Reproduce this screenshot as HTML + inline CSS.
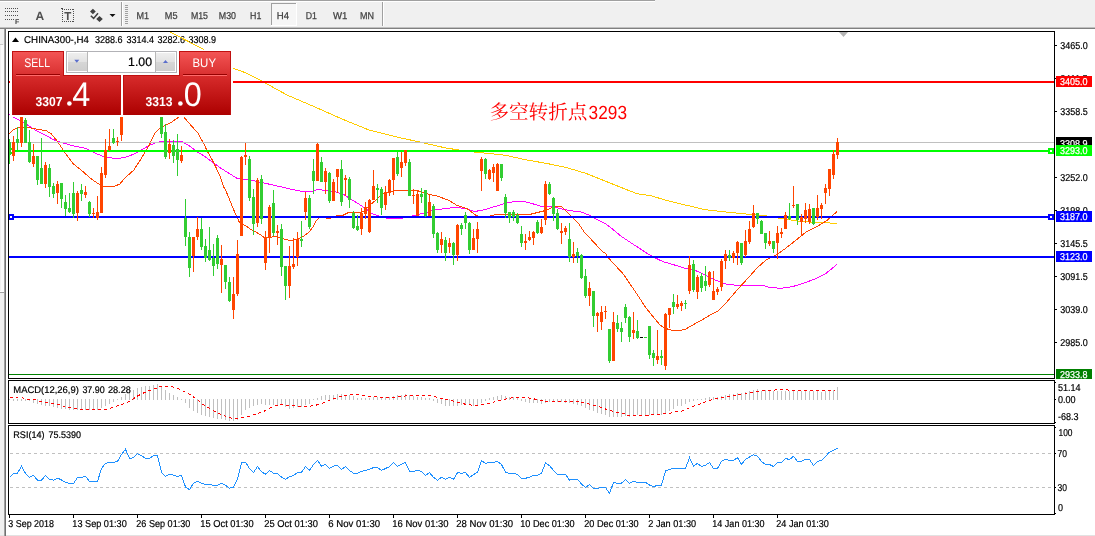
<!DOCTYPE html>
<html lang="zh"><head><meta charset="utf-8"><title>CHINA300-,H4</title>
<style>html,body{margin:0;padding:0;background:#fff;overflow:hidden}svg{display:block;text-rendering:geometricPrecision}text{font-family:"Liberation Sans","Noto Sans CJK SC",sans-serif;white-space:pre}.b{stroke:#000;stroke-width:0.2px}.w{stroke:#fff;stroke-width:0.25px}.cjk{font-family:"Liberation Sans","Noto Serif CJK SC","Noto Sans CJK SC",serif}.cr{shape-rendering:crispEdges}</style></head><body>
<svg width="1095" height="536" viewBox="0 0 1095 536">
<defs><linearGradient id="gTop" x1="0" y1="0" x2="0" y2="1"><stop offset="0" stop-color="#f45656"/><stop offset="1" stop-color="#d93030"/></linearGradient><linearGradient id="gBot" x1="0" y1="0" x2="0" y2="1"><stop offset="0" stop-color="#d82c2c"/><stop offset="1" stop-color="#ac0000"/></linearGradient><linearGradient id="gBtn" x1="0" y1="0" x2="0" y2="1"><stop offset="0" stop-color="#eeeeee"/><stop offset="0.5" stop-color="#e2e2e2"/><stop offset="0.5" stop-color="#d6d6d6"/><stop offset="1" stop-color="#cecece"/></linearGradient><clipPath id="cMain"><rect x="9" y="32" width="1045" height="346"/></clipPath></defs>
<g class="cr">
<rect x="0" y="0" width="1095" height="536" fill="#ffffff" />
<rect x="0" y="0" width="1095" height="27" fill="#f0f0f0" />
<rect x="0" y="0" width="655" height="1" fill="#a0a0a0" />
<rect x="0" y="1" width="655" height="1" fill="#ffffff" />
<rect x="0" y="27" width="1095" height="1" fill="#c0c0c0" />
<rect x="0" y="28" width="1095" height="1" fill="#808080" />
<rect x="0" y="29" width="4" height="507" fill="#f0f0f0" />
<rect x="0" y="44" width="3" height="1" fill="#c8c8c8" />
<rect x="0" y="45" width="1" height="246" fill="#f0f0f0" />
<rect x="1" y="45" width="3" height="246" fill="#fbfbfb" />
<rect x="0" y="291" width="4" height="1" fill="#ffffff" />
<rect x="0" y="292" width="4" height="1" fill="#a0a0a0" />
<rect x="0" y="535" width="1095" height="1" fill="#e2e2e2" />
<rect x="4" y="29" width="1" height="507" fill="#a0a0a0" />
<rect x="5" y="29" width="1" height="507" fill="#707070" />
<rect x="121" y="2" width="1" height="24" fill="#a0a0a0" />
<rect x="122" y="2" width="1" height="24" fill="#ffffff" />
<rect x="125" y="5" width="3" height="1" fill="#a0a0a0" />
<rect x="125" y="7" width="3" height="1" fill="#a0a0a0" />
<rect x="125" y="9" width="3" height="1" fill="#a0a0a0" />
<rect x="125" y="11" width="3" height="1" fill="#a0a0a0" />
<rect x="125" y="13" width="3" height="1" fill="#a0a0a0" />
<rect x="125" y="15" width="3" height="1" fill="#a0a0a0" />
<rect x="125" y="17" width="3" height="1" fill="#a0a0a0" />
<rect x="125" y="19" width="3" height="1" fill="#a0a0a0" />
<rect x="125" y="21" width="3" height="1" fill="#a0a0a0" />
<rect x="125" y="23" width="3" height="1" fill="#a0a0a0" />
<rect x="382" y="2" width="1" height="24" fill="#a0a0a0" />
<rect x="383" y="2" width="1" height="24" fill="#ffffff" />
<rect x="271" y="3" width="25" height="22" fill="#f6f6f6" />
<rect x="271" y="3" width="25" height="1" fill="#a0a0a0" />
<rect x="271" y="3" width="1" height="22" fill="#a0a0a0" />
<rect x="271" y="25" width="26" height="1" fill="#ffffff" />
<rect x="296" y="3" width="1" height="22" fill="#ffffff" />
<rect x="5" y="8" width="1" height="1" fill="#505050" />
<rect x="7" y="8" width="1" height="1" fill="#505050" />
<rect x="9" y="8" width="1" height="1" fill="#505050" />
<rect x="11" y="8" width="1" height="1" fill="#505050" />
<rect x="13" y="8" width="1" height="1" fill="#505050" />
<rect x="15" y="8" width="1" height="1" fill="#505050" />
<rect x="17" y="8" width="1" height="1" fill="#505050" />
<rect x="5" y="11" width="1" height="1" fill="#505050" />
<rect x="7" y="11" width="1" height="1" fill="#505050" />
<rect x="9" y="11" width="1" height="1" fill="#505050" />
<rect x="11" y="11" width="1" height="1" fill="#505050" />
<rect x="13" y="11" width="1" height="1" fill="#505050" />
<rect x="15" y="11" width="1" height="1" fill="#505050" />
<rect x="17" y="11" width="1" height="1" fill="#505050" />
<rect x="5" y="15" width="1" height="1" fill="#505050" />
<rect x="7" y="15" width="1" height="1" fill="#505050" />
<rect x="9" y="15" width="1" height="1" fill="#505050" />
<rect x="11" y="15" width="1" height="1" fill="#505050" />
<rect x="13" y="15" width="1" height="1" fill="#505050" />
<rect x="15" y="15" width="1" height="1" fill="#505050" />
<rect x="17" y="15" width="1" height="1" fill="#505050" />
<rect x="5" y="19" width="1" height="1" fill="#505050" />
<rect x="7" y="19" width="1" height="1" fill="#505050" />
<rect x="9" y="19" width="1" height="1" fill="#505050" />
<rect x="11" y="19" width="1" height="1" fill="#505050" />
<rect x="13" y="19" width="1" height="1" fill="#505050" />
<rect x="62" y="9" width="1" height="1" fill="#505050" />
<rect x="62" y="21" width="1" height="1" fill="#505050" />
<rect x="64" y="9" width="1" height="1" fill="#505050" />
<rect x="64" y="21" width="1" height="1" fill="#505050" />
<rect x="66" y="9" width="1" height="1" fill="#505050" />
<rect x="66" y="21" width="1" height="1" fill="#505050" />
<rect x="68" y="9" width="1" height="1" fill="#505050" />
<rect x="68" y="21" width="1" height="1" fill="#505050" />
<rect x="70" y="9" width="1" height="1" fill="#505050" />
<rect x="70" y="21" width="1" height="1" fill="#505050" />
<rect x="72" y="9" width="1" height="1" fill="#505050" />
<rect x="72" y="21" width="1" height="1" fill="#505050" />
<rect x="62" y="9" width="1" height="1" fill="#505050" />
<rect x="73" y="9" width="1" height="1" fill="#505050" />
<rect x="62" y="11" width="1" height="1" fill="#505050" />
<rect x="73" y="11" width="1" height="1" fill="#505050" />
<rect x="62" y="13" width="1" height="1" fill="#505050" />
<rect x="73" y="13" width="1" height="1" fill="#505050" />
<rect x="62" y="15" width="1" height="1" fill="#505050" />
<rect x="73" y="15" width="1" height="1" fill="#505050" />
<rect x="62" y="17" width="1" height="1" fill="#505050" />
<rect x="73" y="17" width="1" height="1" fill="#505050" />
<rect x="62" y="19" width="1" height="1" fill="#505050" />
<rect x="73" y="19" width="1" height="1" fill="#505050" />
<rect x="62" y="21" width="1" height="1" fill="#505050" />
<rect x="73" y="21" width="1" height="1" fill="#505050" />
<rect x="61" y="8" width="2" height="1" fill="#404040" />
</g>
<text x="15" y="24" font-size="7" fill="#404040" font-weight="bold" >F</text>
<text x="35.5" y="19.5" font-size="12" fill="#505050" font-weight="bold" >A</text>
<text x="64.2" y="20" font-size="11.5" fill="#505050" font-weight="bold" >T</text>
<path d="M90 11.6 L92.9 8.8 L95.8 11.6 L92.9 14.2 Z M96.2 19 L99.5 16 L102.8 19 L99.5 22 Z" fill="#404040"/>
<path d="M90.8 15.8 L93.6 18.4 L98 13.2" fill="none" stroke="#404040" stroke-width="1.5"/>
<path d="M109.5 14 L115.5 14 L112.5 17 Z" fill="#101010"/>
<text x="136.4" y="19" font-size="10" fill="#404040" textLength="12.6" lengthAdjust="spacingAndGlyphs" stroke="#404040" stroke-width="0.25">M1</text>
<text x="164.8" y="19" font-size="10" fill="#404040" textLength="12.7" lengthAdjust="spacingAndGlyphs" stroke="#404040" stroke-width="0.25">M5</text>
<text x="190.9" y="19" font-size="10" fill="#404040" textLength="17.1" lengthAdjust="spacingAndGlyphs" stroke="#404040" stroke-width="0.25">M15</text>
<text x="218.8" y="19" font-size="10" fill="#404040" textLength="17.2" lengthAdjust="spacingAndGlyphs" stroke="#404040" stroke-width="0.25">M30</text>
<text x="250" y="19" font-size="10" fill="#404040" textLength="11.3" lengthAdjust="spacingAndGlyphs" stroke="#404040" stroke-width="0.25">H1</text>
<text x="276.7" y="19" font-size="10" fill="#404040" textLength="12.3" lengthAdjust="spacingAndGlyphs" stroke="#404040" stroke-width="0.25">H4</text>
<text x="305.8" y="19" font-size="10" fill="#404040" textLength="11.2" lengthAdjust="spacingAndGlyphs" stroke="#404040" stroke-width="0.25">D1</text>
<text x="333" y="19" font-size="10" fill="#404040" textLength="14.4" lengthAdjust="spacingAndGlyphs" stroke="#404040" stroke-width="0.25">W1</text>
<text x="360" y="19" font-size="10" fill="#404040" textLength="14" lengthAdjust="spacingAndGlyphs" stroke="#404040" stroke-width="0.25">MN</text>
<g class="cr">
<rect x="8" y="31" width="1047" height="1" fill="#000" />
<rect x="8" y="378" width="1047" height="1" fill="#000" />
<rect x="8" y="31" width="1" height="348" fill="#000" />
<rect x="1054" y="31" width="1" height="348" fill="#000" />
<rect x="8" y="380" width="1047" height="1" fill="#000" />
<rect x="8" y="423" width="1047" height="1" fill="#000" />
<rect x="8" y="380" width="1" height="44" fill="#000" />
<rect x="1054" y="380" width="1" height="44" fill="#000" />
<rect x="8" y="425" width="1047" height="1" fill="#000" />
<rect x="8" y="514" width="1047" height="1" fill="#000" />
<rect x="8" y="425" width="1" height="90" fill="#000" />
<rect x="1054" y="425" width="1" height="90" fill="#000" />
<rect x="1055" y="45" width="2" height="1" fill="#000" />
<rect x="1055" y="78" width="2" height="1" fill="#000" />
<rect x="1055" y="111" width="2" height="1" fill="#000" />
<rect x="1055" y="177" width="2" height="1" fill="#000" />
<rect x="1055" y="210" width="2" height="1" fill="#000" />
<rect x="1055" y="243" width="2" height="1" fill="#000" />
<rect x="1055" y="276" width="2" height="1" fill="#000" />
<rect x="1055" y="309" width="2" height="1" fill="#000" />
<rect x="1055" y="342" width="2" height="1" fill="#000" />
<rect x="1055" y="382" width="1" height="1" fill="#000" />
<rect x="1055" y="399" width="1" height="1" fill="#000" />
<rect x="1055" y="422" width="1" height="1" fill="#000" />
<rect x="1055" y="427" width="1" height="1" fill="#000" />
<rect x="1055" y="453" width="1" height="1" fill="#000" />
<rect x="1055" y="487" width="1" height="1" fill="#000" />
<rect x="1055" y="513" width="1" height="1" fill="#000" />
<rect x="9" y="515" width="1" height="3" fill="#000" />
<rect x="73" y="515" width="1" height="3" fill="#000" />
<rect x="137" y="515" width="1" height="3" fill="#000" />
<rect x="201" y="515" width="1" height="3" fill="#000" />
<rect x="265" y="515" width="1" height="3" fill="#000" />
<rect x="329" y="515" width="1" height="3" fill="#000" />
<rect x="393" y="515" width="1" height="3" fill="#000" />
<rect x="457" y="515" width="1" height="3" fill="#000" />
<rect x="521" y="515" width="1" height="3" fill="#000" />
<rect x="585" y="515" width="1" height="3" fill="#000" />
<rect x="649" y="515" width="1" height="3" fill="#000" />
<rect x="713" y="515" width="1" height="3" fill="#000" />
<rect x="777" y="515" width="1" height="3" fill="#000" />
</g>
<text x="1060.2" y="49" font-size="10" fill="#000" textLength="27.5" lengthAdjust="spacingAndGlyphs" class="b" >3465.0</text>
<text x="1060.2" y="82" font-size="10" fill="#000" textLength="27.5" lengthAdjust="spacingAndGlyphs" class="b" >3411.5</text>
<text x="1060.2" y="115" font-size="10" fill="#000" textLength="27.5" lengthAdjust="spacingAndGlyphs" class="b" >3358.5</text>
<text x="1060.2" y="181" font-size="10" fill="#000" textLength="27.5" lengthAdjust="spacingAndGlyphs" class="b" >3252.0</text>
<text x="1060.2" y="214" font-size="10" fill="#000" textLength="27.5" lengthAdjust="spacingAndGlyphs" class="b" >3198.0</text>
<text x="1060.2" y="247" font-size="10" fill="#000" textLength="27.5" lengthAdjust="spacingAndGlyphs" class="b" >3145.5</text>
<text x="1060.2" y="280" font-size="10" fill="#000" textLength="27.5" lengthAdjust="spacingAndGlyphs" class="b" >3091.5</text>
<text x="1060.2" y="313" font-size="10" fill="#000" textLength="27.5" lengthAdjust="spacingAndGlyphs" class="b" >3039.0</text>
<text x="1060.2" y="346" font-size="10" fill="#000" textLength="27.5" lengthAdjust="spacingAndGlyphs" class="b" >2985.0</text>
<text x="1058" y="391" font-size="10" fill="#000" textLength="22.6" lengthAdjust="spacingAndGlyphs" class="b" >51.14</text>
<text x="1058" y="403" font-size="10" fill="#000" textLength="17.6" lengthAdjust="spacingAndGlyphs" class="b" >0.00</text>
<text x="1058" y="420" font-size="10" fill="#000" textLength="20.6" lengthAdjust="spacingAndGlyphs" class="b" >-68.3</text>
<text x="1058.5" y="436" font-size="10" fill="#000" textLength="14" lengthAdjust="spacingAndGlyphs" class="b" >100</text>
<text x="1057.5" y="457" font-size="10" fill="#000" textLength="9.5" lengthAdjust="spacingAndGlyphs" class="b" >70</text>
<text x="1057.5" y="491" font-size="10" fill="#000" textLength="9.5" lengthAdjust="spacingAndGlyphs" class="b" >30</text>
<text x="1058" y="511" font-size="10" fill="#000" textLength="5" lengthAdjust="spacingAndGlyphs" class="b" >0</text>
<text x="8.3" y="527" font-size="10" fill="#000" textLength="45.6" lengthAdjust="spacingAndGlyphs" class="b" >3 Sep 2018</text>
<text x="72.3" y="527" font-size="10" fill="#000" textLength="54.5" lengthAdjust="spacingAndGlyphs" class="b" >13 Sep 01:30</text>
<text x="136.3" y="527" font-size="10" fill="#000" textLength="54" lengthAdjust="spacingAndGlyphs" class="b" >26 Sep 01:30</text>
<text x="200.3" y="527" font-size="10" fill="#000" textLength="53.3" lengthAdjust="spacingAndGlyphs" class="b" >15 Oct 01:30</text>
<text x="264.3" y="527" font-size="10" fill="#000" textLength="53.6" lengthAdjust="spacingAndGlyphs" class="b" >25 Oct 01:30</text>
<text x="328.3" y="527" font-size="10" fill="#000" textLength="51.8" lengthAdjust="spacingAndGlyphs" class="b" >6 Nov 01:30</text>
<text x="392.3" y="527" font-size="10" fill="#000" textLength="56.3" lengthAdjust="spacingAndGlyphs" class="b" >16 Nov 01:30</text>
<text x="456.3" y="527" font-size="10" fill="#000" textLength="56.7" lengthAdjust="spacingAndGlyphs" class="b" >28 Nov 01:30</text>
<text x="520.3" y="527" font-size="10" fill="#000" textLength="54.3" lengthAdjust="spacingAndGlyphs" class="b" >10 Dec 01:30</text>
<text x="584.3" y="527" font-size="10" fill="#000" textLength="54.3" lengthAdjust="spacingAndGlyphs" class="b" >20 Dec 01:30</text>
<text x="648.3" y="527" font-size="10" fill="#000" textLength="47.8" lengthAdjust="spacingAndGlyphs" class="b" >2 Jan 01:30</text>
<text x="712.3" y="527" font-size="10" fill="#000" textLength="52.2" lengthAdjust="spacingAndGlyphs" class="b" >14 Jan 01:30</text>
<text x="776.3" y="527" font-size="10" fill="#000" textLength="52.6" lengthAdjust="spacingAndGlyphs" class="b" >24 Jan 01:30</text>
<path d="M12 42 L19 42 L15.5 37.6 Z" fill="#000"/>
<text y="43" font-size="10" fill="#000" class="b"><tspan x="24.1" textLength="64.8" lengthAdjust="spacingAndGlyphs">CHINA300-,H4</tspan> <tspan x="95" textLength="27.6" lengthAdjust="spacingAndGlyphs">3288.6</tspan> <tspan x="126.4" textLength="27.6" lengthAdjust="spacingAndGlyphs">3314.4</tspan> <tspan x="157.4" textLength="27.6" lengthAdjust="spacingAndGlyphs">3282.6</tspan> <tspan x="188.4" textLength="27.6" lengthAdjust="spacingAndGlyphs">3308.9</tspan></text>
<g clip-path="url(#cMain)">
<polyline points="170.6,32.2 202.0,48.6 233.6,68.4 243.0,71.7 259.7,79.9 287.0,95.0 314.5,106.8 342.0,119.0 369.0,130.0 396.8,137.0 424.0,143.0 445.0,147.8 460.0,150.2 476.0,152.2 505.4,155.2 525.5,159.8 545.6,163.2 565.6,167.3 585.7,173.3 605.8,181.3 626.0,189.4 637.0,193.7 651.0,195.7 665.0,200.0 685.3,205.0 705.4,209.7 725.5,212.0 745.6,214.0 765.6,215.8 779.7,218.2 795.8,220.8 815.9,222.6 837.0,223.2" fill="none" stroke="#ffcc00" stroke-width="1" class="cr"/>
<polyline points="9.0,114.4 14.0,117.6 21.1,121.0 29.1,126.1 37.1,131.1 45.2,135.1 53.2,139.5 61.3,142.5 73.3,145.8 85.4,148.2 93.4,152.2 101.4,155.8 109.5,157.8 117.5,158.6 125.6,157.2 133.6,154.2 141.6,149.8 149.7,145.2 157.7,142.1 165.7,141.5 181.8,141.5 189.9,146.2 197.9,152.2 205.9,157.2 213.0,162.6 221.0,168.3 229.0,173.3 237.0,178.3 245.0,179.3 253.2,180.7 265.3,183.3 277.3,186.0 289.4,188.8 301.4,191.4 312.5,191.4 317.5,189.4 325.6,190.4 335.6,192.0 343.6,194.4 349.7,198.4 357.7,203.4 365.7,208.5 371.8,213.5 379.8,216.3 387.0,218.3 402.0,218.3 410.0,216.5 418.0,214.5 425.0,212.9 435.0,209.9 455.0,207.4 465.0,208.5 475.0,211.5 485.3,209.5 495.3,206.4 505.4,203.4 515.4,201.4 523.5,201.4 533.5,204.0 541.5,206.4 553.6,206.8 563.8,209.4 572.5,211.0 581.3,212.0 590.0,215.5 598.9,220.4 606.2,224.3 613.5,229.9 620.8,236.0 628.0,240.8 636.9,246.7 645.6,252.5 654.4,257.6 663.2,261.7 672.0,264.2 683.7,267.9 692.4,269.3 701.2,273.0 708.5,276.6 715.0,279.9 725.5,284.0 737.5,285.5 763.6,285.7 769.7,287.5 781.0,288.3 791.8,286.8 803.0,283.5 815.9,278.5 826.0,273.4 837.0,264.4" fill="none" stroke="#ff00ff" stroke-width="1" class="cr"/>
<polyline points="9.0,134.1 13.0,130.1 18.0,127.7 25.1,127.1 31.1,128.1 38.2,129.5 46.2,130.7 51.2,133.7 57.2,141.1 65.3,153.2 73.3,163.8 81.4,170.3 89.4,177.3 97.4,183.3 105.5,187.0 113.5,186.4 119.5,184.3 125.6,177.3 133.6,170.3 139.6,161.2 145.6,151.2 149.7,144.2 154.7,133.1 159.7,128.1 165.7,125.1 171.8,122.1 178.8,117.0 181.3,115.5 183.8,117.0 189.9,124.1 197.9,133.1 202.9,142.1 207.9,152.2 214.0,163.2 220.0,176.3 224.0,187.4 226.3,191.7 232.2,206.3 236.6,216.5 239.5,222.4 245.4,225.6 251.2,229.7 255.0,231.4 260.8,235.0 265.2,238.3 269.6,237.3 276.9,236.5 284.2,239.2 291.5,240.6 297.4,239.2 303.2,236.5 309.0,232.2 313.5,226.3 316.4,220.5 319.3,217.5 329.6,218.3 338.3,215.4 342.7,215.4 348.6,212.4 357.3,212.9 363.2,211.7 366.0,208.8 370.5,204.4 376.3,200.0 379.8,196.0 385.8,192.4 393.9,190.8 410.0,190.0 418.0,190.8 425.0,193.4 437.0,196.0 449.0,200.4 457.0,205.4 467.0,208.5 476.0,215.5 485.0,217.5 494.0,215.0 529.5,214.5 537.5,212.5 545.6,210.5 553.6,206.8 561.6,206.5 569.6,214.5 578.4,223.3 584.2,232.0 594.5,243.0 601.8,251.0 606.2,254.0 607.0,256.2 613.5,263.5 623.7,274.5 628.0,281.0 636.9,294.0 645.6,307.4 654.4,318.4 660.3,325.2 664.0,327.5 669.0,329.6 674.0,330.7 680.0,330.5 685.0,329.5 690.6,326.3 696.0,323.2 701.2,320.5 708.5,316.0 715.0,312.5 718.0,310.9 726.3,302.7 734.5,293.0 740.5,286.2 749.6,276.4 757.6,267.4 765.6,260.4 775.7,255.3 785.7,248.3 795.8,240.3 805.8,232.2 815.9,227.2 826.0,221.2 837.0,211.7" fill="none" stroke="#ff4500" stroke-width="1" class="cr"/>
<g class="cr">
<rect x="9" y="142" width="1045" height="1" fill="#c0c0c0" />
<rect x="9" y="81" width="1045" height="2" fill="#ff0000" />
<rect x="9" y="150" width="1045" height="2" fill="#00ff00" />
<rect x="9" y="216" width="1045" height="2" fill="#0000ff" />
<rect x="9" y="256" width="1045" height="2" fill="#0000ff" />
<rect x="9" y="374" width="1045" height="1" fill="#008000" />
<rect x="8" y="148" width="6" height="6" fill="#00ff00" />
<rect x="10" y="150" width="2" height="2" fill="#ffffff" />
<rect x="1048" y="148" width="6" height="6" fill="#00ff00" />
<rect x="1050" y="150" width="2" height="2" fill="#ffffff" />
<rect x="8" y="214" width="6" height="6" fill="#0000ff" />
<rect x="10" y="216" width="2" height="2" fill="#ffffff" />
<rect x="1048" y="214" width="6" height="6" fill="#0000ff" />
<rect x="1050" y="216" width="2" height="2" fill="#ffffff" />
<rect x="9" y="139" width="1" height="25" fill="#32cd32" />
<rect x="8" y="142" width="3" height="13" fill="#32cd32" />
<rect x="13" y="136" width="1" height="25" fill="#ff4500" />
<rect x="12" y="142" width="3" height="14" fill="#ff4500" />
<rect x="17" y="127" width="1" height="23" fill="#32cd32" />
<rect x="16" y="139" width="3" height="4" fill="#32cd32" />
<rect x="21" y="117" width="1" height="30" fill="#ff4500" />
<rect x="20" y="117" width="3" height="26" fill="#ff4500" />
<rect x="25" y="118" width="1" height="25" fill="#32cd32" />
<rect x="24" y="120" width="3" height="23" fill="#32cd32" />
<rect x="29" y="130" width="1" height="33" fill="#32cd32" />
<rect x="28" y="142" width="3" height="20" fill="#32cd32" />
<rect x="33" y="144" width="1" height="23" fill="#ff4500" />
<rect x="32" y="156" width="3" height="8" fill="#ff4500" />
<rect x="37" y="156" width="1" height="29" fill="#32cd32" />
<rect x="36" y="156" width="3" height="24" fill="#32cd32" />
<rect x="41" y="138" width="1" height="46" fill="#32cd32" />
<rect x="40" y="168" width="3" height="16" fill="#32cd32" />
<rect x="45" y="162" width="1" height="26" fill="#ff4500" />
<rect x="44" y="165" width="3" height="19" fill="#ff4500" />
<rect x="49" y="164" width="1" height="33" fill="#32cd32" />
<rect x="48" y="168" width="3" height="19" fill="#32cd32" />
<rect x="53" y="183" width="1" height="15" fill="#32cd32" />
<rect x="52" y="186" width="3" height="8" fill="#32cd32" />
<rect x="57" y="181" width="1" height="23" fill="#ff4500" />
<rect x="56" y="184" width="3" height="9" fill="#ff4500" />
<rect x="61" y="183" width="1" height="25" fill="#32cd32" />
<rect x="60" y="183" width="3" height="16" fill="#32cd32" />
<rect x="65" y="195" width="1" height="21" fill="#32cd32" />
<rect x="64" y="202" width="3" height="7" fill="#32cd32" />
<rect x="69" y="193" width="1" height="20" fill="#32cd32" />
<rect x="68" y="208" width="3" height="4" fill="#32cd32" />
<rect x="73" y="182" width="1" height="36" fill="#32cd32" />
<rect x="72" y="193" width="3" height="21" fill="#32cd32" />
<rect x="77" y="191" width="1" height="30" fill="#ff4500" />
<rect x="76" y="193" width="3" height="20" fill="#ff4500" />
<rect x="81" y="184" width="1" height="17" fill="#32cd32" />
<rect x="80" y="190" width="3" height="4" fill="#32cd32" />
<rect x="85" y="186" width="1" height="12" fill="#ff4500" />
<rect x="84" y="192" width="3" height="3" fill="#ff4500" />
<rect x="89" y="201" width="1" height="16" fill="#32cd32" />
<rect x="88" y="202" width="3" height="12" fill="#32cd32" />
<rect x="93" y="208" width="1" height="10" fill="#ff4500" />
<rect x="92" y="213" width="3" height="1" fill="#ff4500" />
<rect x="97" y="196" width="1" height="24" fill="#ff4500" />
<rect x="96" y="212" width="3" height="6" fill="#ff4500" />
<rect x="101" y="167" width="1" height="46" fill="#ff4500" />
<rect x="100" y="173" width="3" height="40" fill="#ff4500" />
<rect x="105" y="139" width="1" height="39" fill="#ff4500" />
<rect x="104" y="150" width="3" height="25" fill="#ff4500" />
<rect x="109" y="129" width="1" height="22" fill="#ff4500" />
<rect x="108" y="146" width="3" height="4" fill="#ff4500" />
<rect x="113" y="129" width="1" height="15" fill="#32cd32" />
<rect x="112" y="138" width="3" height="5" fill="#32cd32" />
<rect x="117" y="137" width="1" height="9" fill="#ff4500" />
<rect x="116" y="141" width="3" height="1" fill="#ff4500" />
<rect x="121" y="100" width="1" height="41" fill="#ff4500" />
<rect x="120" y="100" width="3" height="35" fill="#ff4500" />
<rect x="161" y="100" width="1" height="38" fill="#32cd32" />
<rect x="160" y="100" width="3" height="34" fill="#32cd32" />
<rect x="165" y="124" width="1" height="35" fill="#32cd32" />
<rect x="164" y="132" width="3" height="25" fill="#32cd32" />
<rect x="169" y="139" width="1" height="20" fill="#ff4500" />
<rect x="168" y="144" width="3" height="9" fill="#ff4500" />
<rect x="173" y="140" width="1" height="23" fill="#32cd32" />
<rect x="172" y="145" width="3" height="11" fill="#32cd32" />
<rect x="177" y="134" width="1" height="42" fill="#32cd32" />
<rect x="176" y="149" width="3" height="11" fill="#32cd32" />
<rect x="181" y="146" width="1" height="17" fill="#ff4500" />
<rect x="180" y="155" width="3" height="6" fill="#ff4500" />
<rect x="185" y="199" width="1" height="47" fill="#32cd32" />
<rect x="184" y="218" width="3" height="19" fill="#32cd32" />
<rect x="189" y="232" width="1" height="45" fill="#32cd32" />
<rect x="188" y="237" width="3" height="31" fill="#32cd32" />
<rect x="193" y="237" width="1" height="35" fill="#ff4500" />
<rect x="192" y="237" width="3" height="19" fill="#ff4500" />
<rect x="197" y="217" width="1" height="23" fill="#ff4500" />
<rect x="196" y="229" width="3" height="8" fill="#ff4500" />
<rect x="201" y="218" width="1" height="32" fill="#32cd32" />
<rect x="200" y="229" width="3" height="18" fill="#32cd32" />
<rect x="205" y="239" width="1" height="23" fill="#32cd32" />
<rect x="204" y="246" width="3" height="12" fill="#32cd32" />
<rect x="209" y="227" width="1" height="34" fill="#32cd32" />
<rect x="208" y="250" width="3" height="10" fill="#32cd32" />
<rect x="213" y="244" width="1" height="32" fill="#32cd32" />
<rect x="212" y="258" width="3" height="8" fill="#32cd32" />
<rect x="217" y="235" width="1" height="34" fill="#32cd32" />
<rect x="216" y="238" width="3" height="26" fill="#32cd32" />
<rect x="221" y="245" width="1" height="48" fill="#ff4500" />
<rect x="220" y="259" width="3" height="6" fill="#ff4500" />
<rect x="225" y="265" width="1" height="24" fill="#32cd32" />
<rect x="224" y="265" width="3" height="17" fill="#32cd32" />
<rect x="229" y="277" width="1" height="25" fill="#32cd32" />
<rect x="228" y="282" width="3" height="19" fill="#32cd32" />
<rect x="233" y="277" width="1" height="42" fill="#ff4500" />
<rect x="232" y="294" width="3" height="16" fill="#ff4500" />
<rect x="237" y="240" width="1" height="56" fill="#ff4500" />
<rect x="236" y="254" width="3" height="40" fill="#ff4500" />
<rect x="241" y="156" width="1" height="80" fill="#ff4500" />
<rect x="240" y="157" width="3" height="79" fill="#ff4500" />
<rect x="245" y="143" width="1" height="22" fill="#ff4500" />
<rect x="244" y="155" width="3" height="2" fill="#ff4500" />
<rect x="249" y="156" width="1" height="45" fill="#32cd32" />
<rect x="248" y="159" width="3" height="39" fill="#32cd32" />
<rect x="253" y="189" width="1" height="46" fill="#32cd32" />
<rect x="252" y="197" width="3" height="27" fill="#32cd32" />
<rect x="257" y="178" width="1" height="49" fill="#ff4500" />
<rect x="256" y="180" width="3" height="43" fill="#ff4500" />
<rect x="261" y="175" width="1" height="49" fill="#32cd32" />
<rect x="260" y="179" width="3" height="40" fill="#32cd32" />
<rect x="265" y="231" width="1" height="39" fill="#ff4500" />
<rect x="264" y="238" width="3" height="25" fill="#ff4500" />
<rect x="269" y="205" width="1" height="48" fill="#ff4500" />
<rect x="268" y="207" width="3" height="31" fill="#ff4500" />
<rect x="273" y="190" width="1" height="46" fill="#32cd32" />
<rect x="272" y="203" width="3" height="30" fill="#32cd32" />
<rect x="277" y="225" width="1" height="20" fill="#ff4500" />
<rect x="276" y="231" width="3" height="2" fill="#ff4500" />
<rect x="281" y="224" width="1" height="52" fill="#32cd32" />
<rect x="280" y="229" width="3" height="38" fill="#32cd32" />
<rect x="285" y="266" width="1" height="34" fill="#32cd32" />
<rect x="284" y="266" width="3" height="20" fill="#32cd32" />
<rect x="289" y="246" width="1" height="52" fill="#ff4500" />
<rect x="288" y="266" width="3" height="20" fill="#ff4500" />
<rect x="293" y="238" width="1" height="31" fill="#ff4500" />
<rect x="292" y="264" width="3" height="3" fill="#ff4500" />
<rect x="297" y="232" width="1" height="34" fill="#ff4500" />
<rect x="296" y="239" width="3" height="18" fill="#ff4500" />
<rect x="301" y="221" width="1" height="26" fill="#32cd32" />
<rect x="300" y="239" width="3" height="2" fill="#32cd32" />
<rect x="305" y="192" width="1" height="28" fill="#ff4500" />
<rect x="304" y="198" width="3" height="14" fill="#ff4500" />
<rect x="309" y="195" width="1" height="34" fill="#32cd32" />
<rect x="308" y="198" width="3" height="29" fill="#32cd32" />
<rect x="313" y="159" width="1" height="35" fill="#32cd32" />
<rect x="312" y="171" width="3" height="10" fill="#32cd32" />
<rect x="317" y="143" width="1" height="38" fill="#ff4500" />
<rect x="316" y="144" width="3" height="37" fill="#ff4500" />
<rect x="321" y="157" width="1" height="25" fill="#32cd32" />
<rect x="320" y="162" width="3" height="20" fill="#32cd32" />
<rect x="325" y="168" width="1" height="26" fill="#ff4500" />
<rect x="324" y="171" width="3" height="11" fill="#ff4500" />
<rect x="329" y="172" width="1" height="31" fill="#32cd32" />
<rect x="328" y="173" width="3" height="28" fill="#32cd32" />
<rect x="333" y="179" width="1" height="22" fill="#ff4500" />
<rect x="332" y="182" width="3" height="19" fill="#ff4500" />
<rect x="337" y="169" width="1" height="24" fill="#ff4500" />
<rect x="336" y="169" width="3" height="8" fill="#ff4500" />
<rect x="341" y="160" width="1" height="46" fill="#32cd32" />
<rect x="340" y="169" width="3" height="33" fill="#32cd32" />
<rect x="345" y="175" width="1" height="21" fill="#ff4500" />
<rect x="344" y="178" width="3" height="2" fill="#ff4500" />
<rect x="349" y="177" width="1" height="31" fill="#32cd32" />
<rect x="348" y="179" width="3" height="21" fill="#32cd32" />
<rect x="353" y="211" width="1" height="18" fill="#32cd32" />
<rect x="352" y="213" width="3" height="15" fill="#32cd32" />
<rect x="357" y="215" width="1" height="16" fill="#32cd32" />
<rect x="356" y="226" width="3" height="4" fill="#32cd32" />
<rect x="361" y="208" width="1" height="27" fill="#ff4500" />
<rect x="360" y="213" width="3" height="16" fill="#ff4500" />
<rect x="365" y="202" width="1" height="17" fill="#ff4500" />
<rect x="364" y="207" width="3" height="7" fill="#ff4500" />
<rect x="369" y="199" width="1" height="34" fill="#ff4500" />
<rect x="368" y="200" width="3" height="32" fill="#ff4500" />
<rect x="373" y="170" width="1" height="30" fill="#ff4500" />
<rect x="372" y="186" width="3" height="14" fill="#ff4500" />
<rect x="377" y="184" width="1" height="19" fill="#32cd32" />
<rect x="376" y="188" width="3" height="2" fill="#32cd32" />
<rect x="381" y="187" width="1" height="28" fill="#32cd32" />
<rect x="380" y="189" width="3" height="19" fill="#32cd32" />
<rect x="385" y="186" width="1" height="24" fill="#ff4500" />
<rect x="384" y="192" width="3" height="13" fill="#ff4500" />
<rect x="389" y="179" width="1" height="17" fill="#ff4500" />
<rect x="388" y="180" width="3" height="13" fill="#ff4500" />
<rect x="393" y="158" width="1" height="37" fill="#ff4500" />
<rect x="392" y="158" width="3" height="22" fill="#ff4500" />
<rect x="397" y="152" width="1" height="24" fill="#32cd32" />
<rect x="396" y="157" width="3" height="17" fill="#32cd32" />
<rect x="401" y="152" width="1" height="25" fill="#ff4500" />
<rect x="400" y="162" width="3" height="6" fill="#ff4500" />
<rect x="405" y="150" width="1" height="16" fill="#ff4500" />
<rect x="404" y="150" width="3" height="13" fill="#ff4500" />
<rect x="409" y="159" width="1" height="37" fill="#32cd32" />
<rect x="408" y="162" width="3" height="34" fill="#32cd32" />
<rect x="413" y="189" width="1" height="15" fill="#ff4500" />
<rect x="412" y="195" width="3" height="1" fill="#ff4500" />
<rect x="417" y="190" width="1" height="26" fill="#ff4500" />
<rect x="416" y="194" width="3" height="22" fill="#ff4500" />
<rect x="421" y="188" width="1" height="15" fill="#32cd32" />
<rect x="420" y="194" width="3" height="3" fill="#32cd32" />
<rect x="425" y="190" width="1" height="27" fill="#32cd32" />
<rect x="424" y="190" width="3" height="26" fill="#32cd32" />
<rect x="429" y="194" width="1" height="22" fill="#ff4500" />
<rect x="428" y="202" width="3" height="14" fill="#ff4500" />
<rect x="433" y="204" width="1" height="34" fill="#32cd32" />
<rect x="432" y="206" width="3" height="28" fill="#32cd32" />
<rect x="437" y="232" width="1" height="21" fill="#32cd32" />
<rect x="436" y="233" width="3" height="17" fill="#32cd32" />
<rect x="441" y="232" width="1" height="21" fill="#ff4500" />
<rect x="440" y="239" width="3" height="6" fill="#ff4500" />
<rect x="445" y="237" width="1" height="24" fill="#32cd32" />
<rect x="444" y="240" width="3" height="13" fill="#32cd32" />
<rect x="449" y="238" width="1" height="15" fill="#ff4500" />
<rect x="448" y="243" width="3" height="4" fill="#ff4500" />
<rect x="453" y="242" width="1" height="23" fill="#32cd32" />
<rect x="452" y="243" width="3" height="12" fill="#32cd32" />
<rect x="457" y="224" width="1" height="37" fill="#ff4500" />
<rect x="456" y="225" width="3" height="30" fill="#ff4500" />
<rect x="461" y="223" width="1" height="12" fill="#32cd32" />
<rect x="460" y="225" width="3" height="4" fill="#32cd32" />
<rect x="465" y="212" width="1" height="17" fill="#32cd32" />
<rect x="464" y="215" width="3" height="8" fill="#32cd32" />
<rect x="469" y="222" width="1" height="32" fill="#32cd32" />
<rect x="468" y="223" width="3" height="27" fill="#32cd32" />
<rect x="473" y="229" width="1" height="21" fill="#ff4500" />
<rect x="472" y="238" width="3" height="12" fill="#ff4500" />
<rect x="477" y="222" width="1" height="31" fill="#ff4500" />
<rect x="476" y="229" width="3" height="10" fill="#ff4500" />
<rect x="481" y="157" width="1" height="34" fill="#ff4500" />
<rect x="480" y="159" width="3" height="12" fill="#ff4500" />
<rect x="485" y="158" width="1" height="21" fill="#32cd32" />
<rect x="484" y="159" width="3" height="15" fill="#32cd32" />
<rect x="489" y="169" width="1" height="11" fill="#ff4500" />
<rect x="488" y="170" width="3" height="9" fill="#ff4500" />
<rect x="493" y="164" width="1" height="18" fill="#ff4500" />
<rect x="492" y="167" width="3" height="6" fill="#ff4500" />
<rect x="497" y="163" width="1" height="28" fill="#ff4500" />
<rect x="496" y="164" width="3" height="27" fill="#ff4500" />
<rect x="501" y="164" width="1" height="17" fill="#32cd32" />
<rect x="500" y="164" width="3" height="14" fill="#32cd32" />
<rect x="505" y="194" width="1" height="24" fill="#32cd32" />
<rect x="504" y="197" width="3" height="16" fill="#32cd32" />
<rect x="509" y="212" width="1" height="11" fill="#32cd32" />
<rect x="508" y="212" width="3" height="6" fill="#32cd32" />
<rect x="513" y="210" width="1" height="11" fill="#32cd32" />
<rect x="512" y="212" width="3" height="5" fill="#32cd32" />
<rect x="517" y="213" width="1" height="11" fill="#32cd32" />
<rect x="516" y="215" width="3" height="8" fill="#32cd32" />
<rect x="521" y="226" width="1" height="21" fill="#32cd32" />
<rect x="520" y="234" width="3" height="9" fill="#32cd32" />
<rect x="525" y="234" width="1" height="16" fill="#ff4500" />
<rect x="524" y="241" width="3" height="2" fill="#ff4500" />
<rect x="529" y="231" width="1" height="10" fill="#ff4500" />
<rect x="528" y="237" width="3" height="3" fill="#ff4500" />
<rect x="533" y="231" width="1" height="14" fill="#ff4500" />
<rect x="532" y="232" width="3" height="6" fill="#ff4500" />
<rect x="537" y="220" width="1" height="14" fill="#32cd32" />
<rect x="536" y="222" width="3" height="11" fill="#32cd32" />
<rect x="541" y="219" width="1" height="15" fill="#ff4500" />
<rect x="540" y="227" width="3" height="6" fill="#ff4500" />
<rect x="545" y="181" width="1" height="44" fill="#ff4500" />
<rect x="544" y="184" width="3" height="36" fill="#ff4500" />
<rect x="549" y="182" width="1" height="13" fill="#32cd32" />
<rect x="548" y="184" width="3" height="10" fill="#32cd32" />
<rect x="553" y="197" width="1" height="24" fill="#32cd32" />
<rect x="552" y="198" width="3" height="16" fill="#32cd32" />
<rect x="557" y="209" width="1" height="21" fill="#32cd32" />
<rect x="556" y="213" width="3" height="16" fill="#32cd32" />
<rect x="561" y="223" width="1" height="21" fill="#ff4500" />
<rect x="560" y="231" width="3" height="2" fill="#ff4500" />
<rect x="565" y="226" width="1" height="9" fill="#ff4500" />
<rect x="564" y="228" width="3" height="4" fill="#ff4500" />
<rect x="569" y="223" width="1" height="39" fill="#32cd32" />
<rect x="568" y="239" width="3" height="18" fill="#32cd32" />
<rect x="573" y="242" width="1" height="21" fill="#ff4500" />
<rect x="572" y="254" width="3" height="3" fill="#ff4500" />
<rect x="577" y="248" width="1" height="15" fill="#32cd32" />
<rect x="576" y="252" width="3" height="4" fill="#32cd32" />
<rect x="581" y="254" width="1" height="25" fill="#32cd32" />
<rect x="580" y="255" width="3" height="23" fill="#32cd32" />
<rect x="585" y="269" width="1" height="29" fill="#32cd32" />
<rect x="584" y="276" width="3" height="20" fill="#32cd32" />
<rect x="589" y="282" width="1" height="24" fill="#ff4500" />
<rect x="588" y="288" width="3" height="8" fill="#ff4500" />
<rect x="593" y="291" width="1" height="36" fill="#32cd32" />
<rect x="592" y="291" width="3" height="25" fill="#32cd32" />
<rect x="597" y="312" width="1" height="20" fill="#ff4500" />
<rect x="596" y="313" width="3" height="3" fill="#ff4500" />
<rect x="601" y="306" width="1" height="24" fill="#ff4500" />
<rect x="600" y="312" width="3" height="10" fill="#ff4500" />
<rect x="605" y="306" width="1" height="13" fill="#ff4500" />
<rect x="604" y="311" width="3" height="1" fill="#ff4500" />
<rect x="609" y="329" width="1" height="34" fill="#32cd32" />
<rect x="608" y="329" width="3" height="32" fill="#32cd32" />
<rect x="613" y="312" width="1" height="49" fill="#ff4500" />
<rect x="612" y="322" width="3" height="39" fill="#ff4500" />
<rect x="617" y="315" width="1" height="17" fill="#32cd32" />
<rect x="616" y="323" width="3" height="6" fill="#32cd32" />
<rect x="621" y="322" width="1" height="20" fill="#32cd32" />
<rect x="620" y="328" width="3" height="4" fill="#32cd32" />
<rect x="625" y="304" width="1" height="19" fill="#32cd32" />
<rect x="624" y="307" width="3" height="11" fill="#32cd32" />
<rect x="629" y="316" width="1" height="26" fill="#32cd32" />
<rect x="628" y="317" width="3" height="20" fill="#32cd32" />
<rect x="633" y="312" width="1" height="27" fill="#ff4500" />
<rect x="632" y="330" width="3" height="3" fill="#ff4500" />
<rect x="637" y="320" width="1" height="19" fill="#32cd32" />
<rect x="636" y="331" width="3" height="7" fill="#32cd32" />
<rect x="641" y="337" width="1" height="1" fill="#000000" />
<rect x="640" y="337" width="3" height="1" fill="#000000" />
<rect x="645" y="337" width="1" height="1" fill="#32cd32" />
<rect x="644" y="337" width="3" height="1" fill="#32cd32" />
<rect x="649" y="326" width="1" height="33" fill="#32cd32" />
<rect x="648" y="326" width="3" height="29" fill="#32cd32" />
<rect x="653" y="350" width="1" height="16" fill="#32cd32" />
<rect x="652" y="353" width="3" height="5" fill="#32cd32" />
<rect x="657" y="330" width="1" height="34" fill="#ff4500" />
<rect x="656" y="356" width="3" height="4" fill="#ff4500" />
<rect x="661" y="350" width="1" height="15" fill="#32cd32" />
<rect x="660" y="356" width="3" height="2" fill="#32cd32" />
<rect x="665" y="313" width="1" height="57" fill="#ff4500" />
<rect x="664" y="314" width="3" height="52" fill="#ff4500" />
<rect x="669" y="308" width="1" height="20" fill="#ff4500" />
<rect x="668" y="308" width="3" height="7" fill="#ff4500" />
<rect x="673" y="294" width="1" height="20" fill="#32cd32" />
<rect x="672" y="302" width="3" height="5" fill="#32cd32" />
<rect x="677" y="295" width="1" height="14" fill="#ff4500" />
<rect x="676" y="304" width="3" height="3" fill="#ff4500" />
<rect x="681" y="301" width="1" height="10" fill="#ff4500" />
<rect x="680" y="303" width="3" height="3" fill="#ff4500" />
<rect x="685" y="300" width="1" height="9" fill="#32cd32" />
<rect x="684" y="303" width="3" height="1" fill="#32cd32" />
<rect x="689" y="256" width="1" height="38" fill="#ff4500" />
<rect x="688" y="265" width="3" height="26" fill="#ff4500" />
<rect x="693" y="260" width="1" height="32" fill="#32cd32" />
<rect x="692" y="264" width="3" height="26" fill="#32cd32" />
<rect x="697" y="275" width="1" height="24" fill="#ff4500" />
<rect x="696" y="277" width="3" height="15" fill="#ff4500" />
<rect x="701" y="273" width="1" height="19" fill="#32cd32" />
<rect x="700" y="276" width="3" height="12" fill="#32cd32" />
<rect x="705" y="266" width="1" height="25" fill="#32cd32" />
<rect x="704" y="281" width="3" height="5" fill="#32cd32" />
<rect x="709" y="271" width="1" height="16" fill="#ff4500" />
<rect x="708" y="272" width="3" height="13" fill="#ff4500" />
<rect x="713" y="271" width="1" height="29" fill="#ff4500" />
<rect x="712" y="291" width="3" height="9" fill="#ff4500" />
<rect x="717" y="287" width="1" height="8" fill="#ff4500" />
<rect x="716" y="289" width="3" height="3" fill="#ff4500" />
<rect x="721" y="259" width="1" height="32" fill="#ff4500" />
<rect x="720" y="261" width="3" height="26" fill="#ff4500" />
<rect x="725" y="250" width="1" height="19" fill="#ff4500" />
<rect x="724" y="254" width="3" height="7" fill="#ff4500" />
<rect x="729" y="250" width="1" height="11" fill="#32cd32" />
<rect x="728" y="255" width="3" height="3" fill="#32cd32" />
<rect x="733" y="251" width="1" height="12" fill="#ff4500" />
<rect x="732" y="253" width="3" height="5" fill="#ff4500" />
<rect x="737" y="241" width="1" height="24" fill="#ff4500" />
<rect x="736" y="242" width="3" height="11" fill="#ff4500" />
<rect x="741" y="243" width="1" height="22" fill="#32cd32" />
<rect x="740" y="243" width="3" height="20" fill="#32cd32" />
<rect x="745" y="230" width="1" height="27" fill="#ff4500" />
<rect x="744" y="241" width="3" height="14" fill="#ff4500" />
<rect x="749" y="221" width="1" height="23" fill="#ff4500" />
<rect x="748" y="229" width="3" height="13" fill="#ff4500" />
<rect x="753" y="205" width="1" height="23" fill="#ff4500" />
<rect x="752" y="213" width="3" height="14" fill="#ff4500" />
<rect x="757" y="213" width="1" height="11" fill="#32cd32" />
<rect x="756" y="213" width="3" height="6" fill="#32cd32" />
<rect x="761" y="220" width="1" height="14" fill="#32cd32" />
<rect x="760" y="221" width="3" height="13" fill="#32cd32" />
<rect x="765" y="233" width="1" height="16" fill="#32cd32" />
<rect x="764" y="233" width="3" height="10" fill="#32cd32" />
<rect x="769" y="231" width="1" height="15" fill="#ff4500" />
<rect x="768" y="241" width="3" height="3" fill="#ff4500" />
<rect x="773" y="241" width="1" height="12" fill="#32cd32" />
<rect x="772" y="241" width="3" height="8" fill="#32cd32" />
<rect x="777" y="226" width="1" height="33" fill="#ff4500" />
<rect x="776" y="233" width="3" height="10" fill="#ff4500" />
<rect x="781" y="228" width="1" height="10" fill="#ff4500" />
<rect x="780" y="232" width="3" height="2" fill="#ff4500" />
<rect x="785" y="212" width="1" height="17" fill="#ff4500" />
<rect x="784" y="215" width="3" height="14" fill="#ff4500" />
<rect x="789" y="203" width="1" height="17" fill="#32cd32" />
<rect x="788" y="216" width="3" height="3" fill="#32cd32" />
<rect x="793" y="186" width="1" height="22" fill="#ff4500" />
<rect x="792" y="205" width="3" height="1" fill="#ff4500" />
<rect x="797" y="204" width="1" height="21" fill="#32cd32" />
<rect x="796" y="204" width="3" height="16" fill="#32cd32" />
<rect x="801" y="214" width="1" height="22" fill="#ff4500" />
<rect x="800" y="217" width="3" height="5" fill="#ff4500" />
<rect x="805" y="203" width="1" height="20" fill="#ff4500" />
<rect x="804" y="210" width="3" height="9" fill="#ff4500" />
<rect x="809" y="204" width="1" height="20" fill="#ff4500" />
<rect x="808" y="209" width="3" height="13" fill="#ff4500" />
<rect x="813" y="208" width="1" height="17" fill="#32cd32" />
<rect x="812" y="208" width="3" height="16" fill="#32cd32" />
<rect x="817" y="195" width="1" height="25" fill="#ff4500" />
<rect x="816" y="208" width="3" height="9" fill="#ff4500" />
<rect x="821" y="203" width="1" height="16" fill="#ff4500" />
<rect x="820" y="205" width="3" height="4" fill="#ff4500" />
<rect x="825" y="184" width="1" height="20" fill="#ff4500" />
<rect x="824" y="188" width="3" height="5" fill="#ff4500" />
<rect x="829" y="169" width="1" height="27" fill="#ff4500" />
<rect x="828" y="169" width="3" height="20" fill="#ff4500" />
<rect x="833" y="150" width="1" height="29" fill="#ff4500" />
<rect x="832" y="154" width="3" height="21" fill="#ff4500" />
<rect x="837" y="138" width="1" height="21" fill="#ff4500" />
<rect x="836" y="142" width="3" height="13" fill="#ff4500" />
</g>
</g>
<path d="M839 32 L848 32 L843.5 37 Z" fill="#b4b4b4"/>
<text y="118.5" font-size="20" fill="#ff0000" class="cjk"><tspan x="489.4" textLength="98" lengthAdjust="spacingAndGlyphs">多空转折点</tspan><tspan x="588.6" font-size="19" textLength="38.4" lengthAdjust="spacingAndGlyphs">3293</tspan></text>
<g class="cr">
<rect x="1056" y="76" width="36" height="11" fill="#ff0000" />
<rect x="1056" y="137" width="36" height="8" fill="#000000" />
<rect x="1056" y="145" width="36" height="11" fill="#00ff00" />
<rect x="1056" y="211" width="36" height="11" fill="#0000ff" />
<rect x="1056" y="251" width="36" height="11" fill="#0000ff" />
<rect x="1056" y="369" width="36" height="10" fill="#008000" />
</g>
<text x="1060" y="85" font-size="10" fill="#fff" textLength="27.5" lengthAdjust="spacingAndGlyphs" class="w" >3405.0</text>
<clipPath id="cBlk"><rect x="1056" y="137" width="36" height="8"/></clipPath>
<g clip-path="url(#cBlk)">
<text x="1060" y="146.5" font-size="10" fill="#fff" textLength="27.5" lengthAdjust="spacingAndGlyphs" class="w" >3308.9</text>
</g>
<text x="1060" y="154" font-size="10" fill="#fff" textLength="27.5" lengthAdjust="spacingAndGlyphs" class="w" >3293.0</text>
<text x="1060" y="220" font-size="10" fill="#fff" textLength="27.5" lengthAdjust="spacingAndGlyphs" class="w" >3187.0</text>
<text x="1060" y="260" font-size="10" fill="#fff" textLength="27.5" lengthAdjust="spacingAndGlyphs" class="w" >3123.0</text>
<text x="1060" y="377.5" font-size="10" fill="#fff" textLength="27.5" lengthAdjust="spacingAndGlyphs" class="w" >2933.8</text>
<g class="cr">
<rect x="10" y="50" width="223" height="67" fill="#ffffff" />
<rect x="12" y="51" width="52" height="24" fill="url(#gTop)" />
<rect x="179" y="51" width="52" height="24" fill="url(#gTop)" />
<rect x="12" y="75" width="109" height="40" fill="url(#gBot)" />
<rect x="123" y="75" width="108" height="40" fill="url(#gBot)" />
<path d="M12.5 114.5 V51.5 H63.5 V75.5 H120.5 V114.5" fill="none" stroke="#c01010" stroke-width="1"/>
<path d="M123.5 114.5 V75.5 H179.5 V51.5 H230.5 V114.5" fill="none" stroke="#c01010" stroke-width="1"/>
<rect x="16" y="74" width="44" height="1" fill="#960000" />
<rect x="183" y="74" width="44" height="1" fill="#960000" />
<rect x="16" y="75" width="44" height="1" fill="#ff6a6a" />
<rect x="183" y="75" width="44" height="1" fill="#ff6a6a" />
<rect x="66" y="51" width="111" height="22" fill="#b2b2b6" />
<rect x="67" y="52" width="109" height="20" fill="#ffffff" />
<rect x="68" y="53" width="19" height="18" fill="url(#gBtn)" />
<rect x="156" y="53" width="19" height="18" fill="url(#gBtn)" />
<rect x="87" y="52" width="1" height="20" fill="#b8b8b8" />
<rect x="155" y="52" width="1" height="20" fill="#b8b8b8" />
</g>
<path d="M74.3 59.8 L79.3 59.8 L76.8 62.8 Z" fill="#5a6ecc"/>
<path d="M163 63 L168 63 L165.5 60 Z" fill="#5a6ecc"/>
<text x="152" y="66" font-size="12.3" fill="#000" text-anchor="end" stroke="#000" stroke-width="0.2">1.00</text>
<text x="24.3" y="67" font-size="12.5" fill="#ffffff" textLength="25.7" lengthAdjust="spacingAndGlyphs" >SELL</text>
<text x="192.5" y="67" font-size="12.5" fill="#ffffff" textLength="23.5" lengthAdjust="spacingAndGlyphs" >BUY</text>
<text x="35.5" y="105.5" font-size="13" fill="#fff" textLength="27" lengthAdjust="spacingAndGlyphs" font-weight="bold" >3307</text>
<text x="145.5" y="105.5" font-size="13" fill="#fff" textLength="27" lengthAdjust="spacingAndGlyphs" font-weight="bold" >3313</text>
<circle cx="69.4" cy="103.5" r="2.3" fill="#fff"/><circle cx="180.4" cy="103.5" r="2.3" fill="#fff"/>
<text x="72.3" y="105.8" font-size="34" fill="#fff" textLength="18" lengthAdjust="spacingAndGlyphs" >4</text>
<text x="183.8" y="105.8" font-size="34" fill="#fff" textLength="18" lengthAdjust="spacingAndGlyphs" >0</text>
<g class="cr">
<rect x="9" y="399" width="1" height="1" fill="#c0c0c0" />
<rect x="13" y="399" width="1" height="2" fill="#c0c0c0" />
<rect x="17" y="399" width="1" height="2" fill="#c0c0c0" />
<rect x="21" y="399" width="1" height="2" fill="#c0c0c0" />
<rect x="25" y="399" width="1" height="2" fill="#c0c0c0" />
<rect x="29" y="399" width="1" height="2" fill="#c0c0c0" />
<rect x="33" y="399" width="1" height="4" fill="#c0c0c0" />
<rect x="37" y="399" width="1" height="5" fill="#c0c0c0" />
<rect x="41" y="399" width="1" height="6" fill="#c0c0c0" />
<rect x="45" y="399" width="1" height="7" fill="#c0c0c0" />
<rect x="49" y="399" width="1" height="7" fill="#c0c0c0" />
<rect x="53" y="399" width="1" height="8" fill="#c0c0c0" />
<rect x="57" y="399" width="1" height="9" fill="#c0c0c0" />
<rect x="61" y="399" width="1" height="10" fill="#c0c0c0" />
<rect x="65" y="399" width="1" height="10" fill="#c0c0c0" />
<rect x="69" y="399" width="1" height="11" fill="#c0c0c0" />
<rect x="73" y="399" width="1" height="11" fill="#c0c0c0" />
<rect x="77" y="399" width="1" height="11" fill="#c0c0c0" />
<rect x="81" y="399" width="1" height="11" fill="#c0c0c0" />
<rect x="85" y="399" width="1" height="11" fill="#c0c0c0" />
<rect x="89" y="399" width="1" height="11" fill="#c0c0c0" />
<rect x="93" y="399" width="1" height="11" fill="#c0c0c0" />
<rect x="97" y="399" width="1" height="11" fill="#c0c0c0" />
<rect x="101" y="399" width="1" height="9" fill="#c0c0c0" />
<rect x="105" y="399" width="1" height="7" fill="#c0c0c0" />
<rect x="109" y="399" width="1" height="5" fill="#c0c0c0" />
<rect x="113" y="399" width="1" height="3" fill="#c0c0c0" />
<rect x="117" y="399" width="1" height="1" fill="#c0c0c0" />
<rect x="121" y="397" width="1" height="3" fill="#c0c0c0" />
<rect x="125" y="394" width="1" height="6" fill="#c0c0c0" />
<rect x="129" y="391" width="1" height="9" fill="#c0c0c0" />
<rect x="133" y="390" width="1" height="10" fill="#c0c0c0" />
<rect x="137" y="388" width="1" height="12" fill="#c0c0c0" />
<rect x="141" y="387" width="1" height="13" fill="#c0c0c0" />
<rect x="145" y="386" width="1" height="14" fill="#c0c0c0" />
<rect x="149" y="386" width="1" height="14" fill="#c0c0c0" />
<rect x="153" y="385" width="1" height="15" fill="#c0c0c0" />
<rect x="157" y="384" width="1" height="16" fill="#c0c0c0" />
<rect x="161" y="386" width="1" height="14" fill="#c0c0c0" />
<rect x="165" y="390" width="1" height="10" fill="#c0c0c0" />
<rect x="169" y="393" width="1" height="7" fill="#c0c0c0" />
<rect x="173" y="395" width="1" height="5" fill="#c0c0c0" />
<rect x="177" y="397" width="1" height="3" fill="#c0c0c0" />
<rect x="181" y="399" width="1" height="1" fill="#c0c0c0" />
<rect x="185" y="399" width="1" height="4" fill="#c0c0c0" />
<rect x="189" y="399" width="1" height="9" fill="#c0c0c0" />
<rect x="193" y="399" width="1" height="12" fill="#c0c0c0" />
<rect x="197" y="399" width="1" height="14" fill="#c0c0c0" />
<rect x="201" y="399" width="1" height="16" fill="#c0c0c0" />
<rect x="205" y="399" width="1" height="17" fill="#c0c0c0" />
<rect x="209" y="399" width="1" height="18" fill="#c0c0c0" />
<rect x="213" y="399" width="1" height="19" fill="#c0c0c0" />
<rect x="217" y="399" width="1" height="20" fill="#c0c0c0" />
<rect x="221" y="399" width="1" height="20" fill="#c0c0c0" />
<rect x="225" y="399" width="1" height="21" fill="#c0c0c0" />
<rect x="229" y="399" width="1" height="22" fill="#c0c0c0" />
<rect x="233" y="399" width="1" height="22" fill="#c0c0c0" />
<rect x="237" y="399" width="1" height="21" fill="#c0c0c0" />
<rect x="241" y="399" width="1" height="16" fill="#c0c0c0" />
<rect x="245" y="399" width="1" height="11" fill="#c0c0c0" />
<rect x="249" y="399" width="1" height="9" fill="#c0c0c0" />
<rect x="253" y="399" width="1" height="7" fill="#c0c0c0" />
<rect x="257" y="399" width="1" height="6" fill="#c0c0c0" />
<rect x="261" y="399" width="1" height="5" fill="#c0c0c0" />
<rect x="265" y="399" width="1" height="6" fill="#c0c0c0" />
<rect x="269" y="399" width="1" height="6" fill="#c0c0c0" />
<rect x="273" y="399" width="1" height="6" fill="#c0c0c0" />
<rect x="277" y="399" width="1" height="6" fill="#c0c0c0" />
<rect x="281" y="399" width="1" height="6" fill="#c0c0c0" />
<rect x="285" y="399" width="1" height="8" fill="#c0c0c0" />
<rect x="289" y="399" width="1" height="10" fill="#c0c0c0" />
<rect x="293" y="399" width="1" height="9" fill="#c0c0c0" />
<rect x="297" y="399" width="1" height="8" fill="#c0c0c0" />
<rect x="301" y="399" width="1" height="8" fill="#c0c0c0" />
<rect x="305" y="399" width="1" height="6" fill="#c0c0c0" />
<rect x="309" y="399" width="1" height="5" fill="#c0c0c0" />
<rect x="313" y="399" width="1" height="1" fill="#c0c0c0" />
<rect x="317" y="398" width="1" height="2" fill="#c0c0c0" />
<rect x="321" y="396" width="1" height="4" fill="#c0c0c0" />
<rect x="325" y="395" width="1" height="5" fill="#c0c0c0" />
<rect x="329" y="395" width="1" height="5" fill="#c0c0c0" />
<rect x="333" y="395" width="1" height="5" fill="#c0c0c0" />
<rect x="337" y="394" width="1" height="6" fill="#c0c0c0" />
<rect x="341" y="394" width="1" height="6" fill="#c0c0c0" />
<rect x="345" y="395" width="1" height="5" fill="#c0c0c0" />
<rect x="349" y="395" width="1" height="5" fill="#c0c0c0" />
<rect x="353" y="396" width="1" height="4" fill="#c0c0c0" />
<rect x="357" y="398" width="1" height="2" fill="#c0c0c0" />
<rect x="361" y="398" width="1" height="2" fill="#c0c0c0" />
<rect x="365" y="398" width="1" height="2" fill="#c0c0c0" />
<rect x="369" y="398" width="1" height="2" fill="#c0c0c0" />
<rect x="373" y="397" width="1" height="3" fill="#c0c0c0" />
<rect x="377" y="397" width="1" height="3" fill="#c0c0c0" />
<rect x="381" y="397" width="1" height="3" fill="#c0c0c0" />
<rect x="385" y="397" width="1" height="3" fill="#c0c0c0" />
<rect x="389" y="397" width="1" height="3" fill="#c0c0c0" />
<rect x="393" y="396" width="1" height="4" fill="#c0c0c0" />
<rect x="397" y="395" width="1" height="5" fill="#c0c0c0" />
<rect x="401" y="395" width="1" height="5" fill="#c0c0c0" />
<rect x="405" y="394" width="1" height="6" fill="#c0c0c0" />
<rect x="409" y="395" width="1" height="5" fill="#c0c0c0" />
<rect x="413" y="396" width="1" height="4" fill="#c0c0c0" />
<rect x="417" y="397" width="1" height="3" fill="#c0c0c0" />
<rect x="421" y="397" width="1" height="3" fill="#c0c0c0" />
<rect x="425" y="398" width="1" height="2" fill="#c0c0c0" />
<rect x="429" y="398" width="1" height="2" fill="#c0c0c0" />
<rect x="433" y="399" width="1" height="2" fill="#c0c0c0" />
<rect x="437" y="399" width="1" height="4" fill="#c0c0c0" />
<rect x="441" y="399" width="1" height="5" fill="#c0c0c0" />
<rect x="445" y="399" width="1" height="7" fill="#c0c0c0" />
<rect x="449" y="399" width="1" height="7" fill="#c0c0c0" />
<rect x="453" y="399" width="1" height="7" fill="#c0c0c0" />
<rect x="457" y="399" width="1" height="7" fill="#c0c0c0" />
<rect x="461" y="399" width="1" height="6" fill="#c0c0c0" />
<rect x="465" y="399" width="1" height="5" fill="#c0c0c0" />
<rect x="469" y="399" width="1" height="6" fill="#c0c0c0" />
<rect x="473" y="399" width="1" height="7" fill="#c0c0c0" />
<rect x="477" y="399" width="1" height="7" fill="#c0c0c0" />
<rect x="481" y="399" width="1" height="4" fill="#c0c0c0" />
<rect x="485" y="399" width="1" height="2" fill="#c0c0c0" />
<rect x="489" y="398" width="1" height="2" fill="#c0c0c0" />
<rect x="493" y="397" width="1" height="3" fill="#c0c0c0" />
<rect x="497" y="396" width="1" height="4" fill="#c0c0c0" />
<rect x="501" y="395" width="1" height="5" fill="#c0c0c0" />
<rect x="505" y="396" width="1" height="4" fill="#c0c0c0" />
<rect x="509" y="397" width="1" height="3" fill="#c0c0c0" />
<rect x="513" y="397" width="1" height="3" fill="#c0c0c0" />
<rect x="517" y="398" width="1" height="2" fill="#c0c0c0" />
<rect x="521" y="399" width="1" height="2" fill="#c0c0c0" />
<rect x="525" y="399" width="1" height="3" fill="#c0c0c0" />
<rect x="529" y="399" width="1" height="4" fill="#c0c0c0" />
<rect x="533" y="399" width="1" height="4" fill="#c0c0c0" />
<rect x="537" y="399" width="1" height="4" fill="#c0c0c0" />
<rect x="541" y="399" width="1" height="5" fill="#c0c0c0" />
<rect x="545" y="399" width="1" height="4" fill="#c0c0c0" />
<rect x="549" y="399" width="1" height="3" fill="#c0c0c0" />
<rect x="553" y="399" width="1" height="2" fill="#c0c0c0" />
<rect x="557" y="399" width="1" height="3" fill="#c0c0c0" />
<rect x="561" y="399" width="1" height="3" fill="#c0c0c0" />
<rect x="565" y="399" width="1" height="4" fill="#c0c0c0" />
<rect x="569" y="399" width="1" height="4" fill="#c0c0c0" />
<rect x="573" y="399" width="1" height="5" fill="#c0c0c0" />
<rect x="577" y="399" width="1" height="6" fill="#c0c0c0" />
<rect x="581" y="399" width="1" height="7" fill="#c0c0c0" />
<rect x="585" y="399" width="1" height="9" fill="#c0c0c0" />
<rect x="589" y="399" width="1" height="11" fill="#c0c0c0" />
<rect x="593" y="399" width="1" height="12" fill="#c0c0c0" />
<rect x="597" y="399" width="1" height="14" fill="#c0c0c0" />
<rect x="601" y="399" width="1" height="15" fill="#c0c0c0" />
<rect x="605" y="399" width="1" height="16" fill="#c0c0c0" />
<rect x="609" y="399" width="1" height="18" fill="#c0c0c0" />
<rect x="613" y="399" width="1" height="18" fill="#c0c0c0" />
<rect x="617" y="399" width="1" height="18" fill="#c0c0c0" />
<rect x="621" y="399" width="1" height="18" fill="#c0c0c0" />
<rect x="625" y="399" width="1" height="17" fill="#c0c0c0" />
<rect x="629" y="399" width="1" height="18" fill="#c0c0c0" />
<rect x="633" y="399" width="1" height="17" fill="#c0c0c0" />
<rect x="637" y="399" width="1" height="16" fill="#c0c0c0" />
<rect x="641" y="399" width="1" height="16" fill="#c0c0c0" />
<rect x="645" y="399" width="1" height="16" fill="#c0c0c0" />
<rect x="649" y="399" width="1" height="16" fill="#c0c0c0" />
<rect x="653" y="399" width="1" height="16" fill="#c0c0c0" />
<rect x="657" y="399" width="1" height="16" fill="#c0c0c0" />
<rect x="661" y="399" width="1" height="16" fill="#c0c0c0" />
<rect x="665" y="399" width="1" height="14" fill="#c0c0c0" />
<rect x="669" y="399" width="1" height="12" fill="#c0c0c0" />
<rect x="673" y="399" width="1" height="10" fill="#c0c0c0" />
<rect x="677" y="399" width="1" height="7" fill="#c0c0c0" />
<rect x="681" y="399" width="1" height="7" fill="#c0c0c0" />
<rect x="685" y="399" width="1" height="5" fill="#c0c0c0" />
<rect x="689" y="399" width="1" height="3" fill="#c0c0c0" />
<rect x="693" y="399" width="1" height="2" fill="#c0c0c0" />
<rect x="697" y="399" width="1" height="1" fill="#c0c0c0" />
<rect x="701" y="399" width="1" height="1" fill="#c0c0c0" />
<rect x="705" y="398" width="1" height="2" fill="#c0c0c0" />
<rect x="709" y="397" width="1" height="3" fill="#c0c0c0" />
<rect x="713" y="397" width="1" height="3" fill="#c0c0c0" />
<rect x="717" y="397" width="1" height="3" fill="#c0c0c0" />
<rect x="721" y="396" width="1" height="4" fill="#c0c0c0" />
<rect x="725" y="395" width="1" height="5" fill="#c0c0c0" />
<rect x="729" y="394" width="1" height="6" fill="#c0c0c0" />
<rect x="733" y="394" width="1" height="6" fill="#c0c0c0" />
<rect x="737" y="393" width="1" height="7" fill="#c0c0c0" />
<rect x="741" y="393" width="1" height="7" fill="#c0c0c0" />
<rect x="745" y="392" width="1" height="8" fill="#c0c0c0" />
<rect x="749" y="391" width="1" height="9" fill="#c0c0c0" />
<rect x="753" y="390" width="1" height="10" fill="#c0c0c0" />
<rect x="757" y="389" width="1" height="11" fill="#c0c0c0" />
<rect x="761" y="391" width="1" height="9" fill="#c0c0c0" />
<rect x="765" y="390" width="1" height="10" fill="#c0c0c0" />
<rect x="769" y="391" width="1" height="9" fill="#c0c0c0" />
<rect x="773" y="391" width="1" height="9" fill="#c0c0c0" />
<rect x="777" y="391" width="1" height="9" fill="#c0c0c0" />
<rect x="781" y="391" width="1" height="9" fill="#c0c0c0" />
<rect x="785" y="391" width="1" height="9" fill="#c0c0c0" />
<rect x="789" y="391" width="1" height="9" fill="#c0c0c0" />
<rect x="793" y="391" width="1" height="9" fill="#c0c0c0" />
<rect x="797" y="391" width="1" height="9" fill="#c0c0c0" />
<rect x="801" y="391" width="1" height="9" fill="#c0c0c0" />
<rect x="805" y="391" width="1" height="9" fill="#c0c0c0" />
<rect x="809" y="391" width="1" height="9" fill="#c0c0c0" />
<rect x="813" y="391" width="1" height="9" fill="#c0c0c0" />
<rect x="817" y="391" width="1" height="9" fill="#c0c0c0" />
<rect x="821" y="392" width="1" height="8" fill="#c0c0c0" />
<rect x="825" y="391" width="1" height="9" fill="#c0c0c0" />
<rect x="829" y="390" width="1" height="10" fill="#c0c0c0" />
<rect x="833" y="390" width="1" height="10" fill="#c0c0c0" />
<rect x="837" y="387" width="1" height="13" fill="#c0c0c0" />
</g>
<polyline points="9.5,397.4 17.8,397.4 24.2,398.2 29.3,399.5 35.7,400.0 41.4,401.7 47.2,402.6 53.0,403.3 58.7,404.6 64.5,406.4 70.2,407.7 76.6,408.7 81.7,409.3 88.1,409.3 94.5,409.3 100.9,409.3 106.0,409.3 112.4,407.7 118.8,405.5 125.2,403.3 131.0,400.4 136.7,396.5 141.3,394.0 148.3,390.8 154.1,388.9 160.5,386.6 166.2,386.6 172.6,387.0 178.4,388.9 184.1,391.4 190.5,394.9 196.3,399.1 202.7,404.2 208.4,407.7 214.2,411.2 220.6,414.4 226.3,416.4 232.7,418.7 238.5,418.4 244.2,417.6 250.0,416.1 256.4,413.8 262.8,411.9 268.5,408.7 274.3,406.4 279.4,404.2 286.5,405.5 292.3,405.5 298.0,406.4 304.4,406.4 310.2,406.1 315.9,405.2 322.3,403.2 328.1,401.0 334.5,398.5 340.2,396.5 346.0,395.3 352.4,394.4 358.1,394.4 364.5,395.5 370.3,396.5 376.0,396.5 382.4,397.4 388.2,397.4 394.6,397.2 400.3,396.5 406.1,395.9 412.5,395.3 418.3,395.3 424.1,395.3 430.5,395.3 436.2,397.2 442.6,398.5 448.4,400.0 454.8,401.4 460.5,402.9 466.3,404.5 472.7,405.2 478.4,405.2 484.2,404.5 490.6,402.9 496.3,401.4 502.1,400.0 508.5,398.5 514.2,397.2 520.0,397.2 526.4,397.4 532.8,398.7 538.5,399.7 544.3,401.0 549.4,401.4 556.5,401.4 562.9,401.4 568.7,401.4 574.4,401.4 580.2,401.9 586.6,403.3 592.3,405.2 598.1,406.4 604.5,408.7 610.2,410.4 616.0,412.3 622.4,413.2 628.8,415.5 634.5,415.5 640.3,415.5 646.0,415.5 652.4,414.4 658.2,414.4 664.6,413.5 670.3,413.2 676.7,411.5 682.5,411.0 688.3,408.4 694.1,406.1 700.5,403.8 706.2,401.7 712.6,399.5 718.4,398.2 724.8,397.4 730.5,396.3 736.3,395.3 742.7,394.4 748.4,393.3 754.8,392.1 760.6,391.2 766.3,390.4 772.1,390.4 778.5,389.5 784.2,389.5 790.6,390.4 796.4,390.4 802.8,390.4 808.5,390.4 814.3,390.4 819.4,390.4 823.9,390.4 834.7,390.4" fill="none" stroke="#ff0000" stroke-width="1" stroke-dasharray="3 3" class="cr"/>
<text y="392.7" font-size="9.6" fill="#000" class="b"><tspan x="13.3" textLength="65.6" lengthAdjust="spacingAndGlyphs">MACD(12,26,9)</tspan> <tspan x="82.4" textLength="22.4" lengthAdjust="spacingAndGlyphs">37.90</tspan> <tspan x="107.9" textLength="23" lengthAdjust="spacingAndGlyphs">28.28</tspan></text>
<g class="cr">
<line x1="10" y1="453.5" x2="1054" y2="453.5" stroke="#c0c0c0" stroke-width="1" stroke-dasharray="3 3"/>
<line x1="10" y1="487.5" x2="1054" y2="487.5" stroke="#c0c0c0" stroke-width="1" stroke-dasharray="3 3"/>
</g>
<polyline points="9.5,477.4 13.5,473.6 17.5,473.3 21.5,466.2 25.5,473.3 29.5,477.4 33.5,475.3 37.5,480.2 41.5,480.2 45.5,475.5 49.5,479.3 53.5,480.2 57.5,478.1 61.5,480.0 65.5,482.2 69.5,483.6 73.5,483.6 77.5,477.4 81.5,477.4 85.5,476.4 89.5,481.3 93.5,481.3 97.5,481.3 101.5,468.5 105.5,463.4 109.5,462.3 113.5,462.3 117.5,461.4 121.5,454.4 125.5,449.3 129.5,458.5 133.5,457.6 137.5,453.8 141.5,455.7 145.5,458.5 149.5,458.5 153.5,455.7 157.5,455.4 161.5,472.3 165.5,476.4 169.5,474.2 173.5,475.1 177.5,476.4 181.5,475.5 185.5,487.0 189.5,489.6 193.5,483.2 197.5,481.3 201.5,483.2 205.5,484.5 209.5,484.5 213.5,485.4 217.5,485.4 221.5,483.4 225.5,485.1 229.5,488.3 233.5,487.0 237.5,478.7 241.5,462.7 245.5,462.3 249.5,468.5 253.5,472.6 257.5,466.6 261.5,471.7 265.5,474.2 269.5,470.4 273.5,473.3 277.5,473.3 281.5,477.2 285.5,479.3 289.5,476.8 293.5,475.3 297.5,472.6 301.5,472.3 305.5,466.6 309.5,470.4 313.5,464.6 317.5,460.4 321.5,466.2 325.5,464.4 329.5,468.5 333.5,466.2 337.5,465.3 341.5,469.4 345.5,466.6 349.5,470.4 353.5,473.3 357.5,473.3 361.5,471.3 365.5,470.4 369.5,469.4 373.5,467.5 377.5,467.5 381.5,470.4 385.5,468.5 389.5,466.6 393.5,462.5 397.5,466.2 401.5,464.3 405.5,462.5 409.5,471.3 413.5,471.3 417.5,470.4 421.5,471.3 425.5,475.3 429.5,472.6 433.5,477.4 437.5,480.2 441.5,477.4 445.5,479.3 449.5,477.4 453.5,479.3 457.5,472.6 461.5,473.3 465.5,472.6 469.5,477.4 473.5,474.6 477.5,472.3 481.5,460.5 485.5,463.4 489.5,462.5 493.5,462.5 497.5,461.4 501.5,464.4 505.5,472.3 509.5,473.3 513.5,473.3 517.5,474.6 521.5,478.3 525.5,478.3 529.5,477.2 533.5,475.5 537.5,475.3 541.5,473.3 545.5,462.7 549.5,465.7 553.5,470.4 557.5,474.2 561.5,474.2 565.5,474.2 569.5,480.2 573.5,479.3 577.5,479.3 581.5,484.1 585.5,487.4 589.5,484.5 593.5,488.3 597.5,488.3 601.5,487.4 605.5,487.4 609.5,493.5 613.5,482.5 617.5,483.4 621.5,483.2 625.5,479.3 629.5,483.2 633.5,481.3 637.5,482.3 641.5,482.3 645.5,482.3 649.5,485.1 653.5,486.6 657.5,485.4 661.5,485.1 665.5,471.0 669.5,469.4 673.5,468.5 677.5,468.5 681.5,468.5 685.5,468.5 689.5,457.6 693.5,466.2 697.5,463.4 701.5,466.6 705.5,465.3 709.5,462.5 713.5,468.5 717.5,468.5 721.5,461.4 725.5,459.3 729.5,460.4 733.5,460.4 737.5,457.6 741.5,464.4 745.5,459.3 749.5,457.0 753.5,454.7 757.5,456.3 761.5,461.4 765.5,464.4 769.5,464.4 773.5,466.6 777.5,462.5 781.5,462.5 785.5,458.5 789.5,459.5 793.5,456.3 797.5,461.4 801.5,461.4 805.5,459.3 809.5,459.3 813.5,465.7 817.5,461.4 821.5,460.4 825.5,456.3 829.5,452.1 833.5,450.2 837.5,448.4" fill="none" stroke="#1e90ff" stroke-width="1" class="cr"/>
<text y="437.7" font-size="9.6" fill="#000" class="b"><tspan x="13.3" textLength="31.3" lengthAdjust="spacingAndGlyphs">RSI(14)</tspan> <tspan x="48.5" textLength="32.5" lengthAdjust="spacingAndGlyphs">75.5390</tspan></text>
</svg></body></html>
